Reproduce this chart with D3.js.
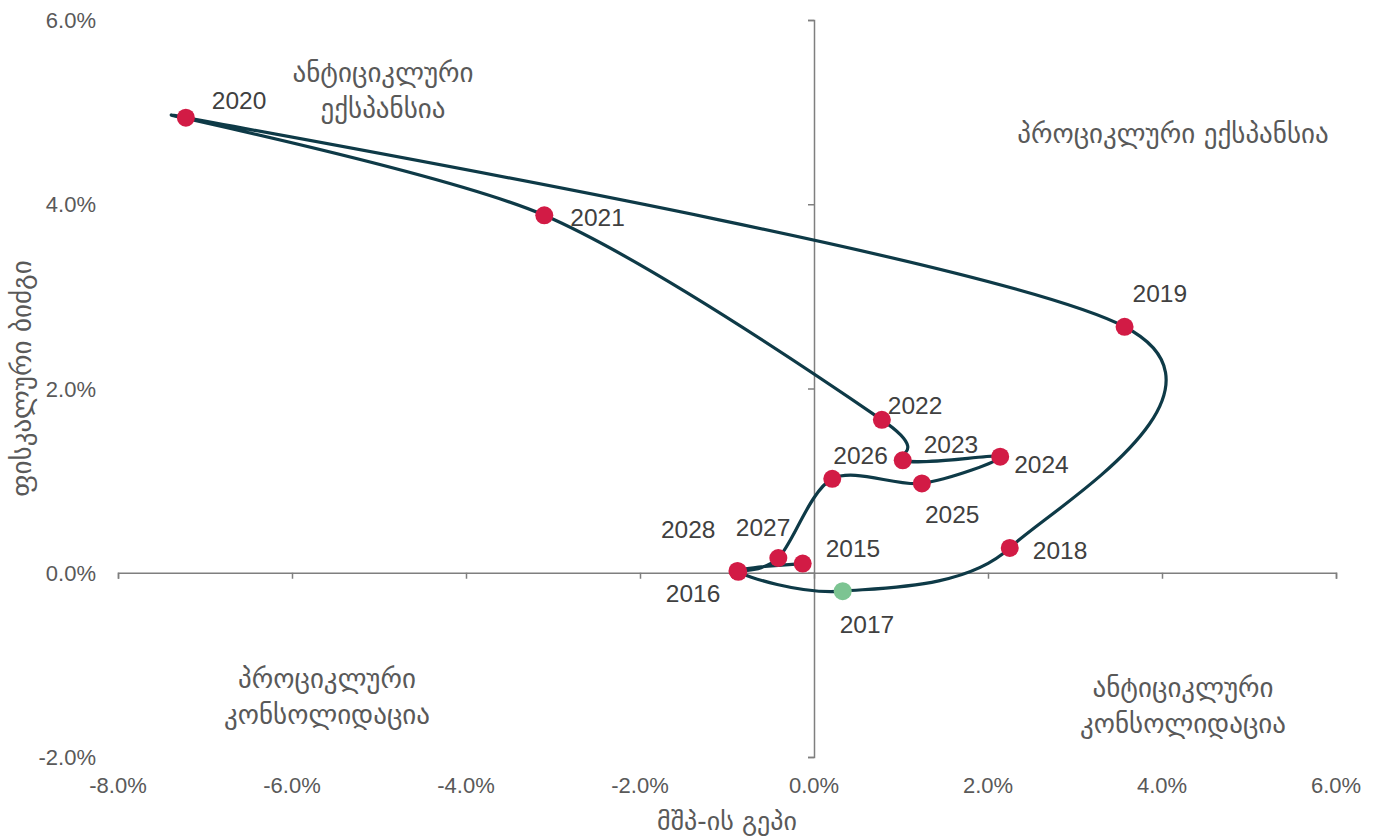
<!DOCTYPE html>
<html>
<head>
<meta charset="utf-8">
<script src="https://cdn.jsdelivr.net/npm/d3@7"></script>
<style>
  html, body { margin: 0; padding: 0; background: #fff; }
  svg { display: block; }
  text { font-family: "Liberation Sans", Arial, "DejaVu Sans", sans-serif; }
  .geo { font-family: "DejaVu Sans", sans-serif; }
</style>
</head>
<body>
<svg id="chart" width="1377" height="838"></svg>
<script>
// ---- Data ----
const years = ["2015","2016","2017","2018","2019","2020","2021","2022","2023","2024","2025","2026","2027","2028"];
const gdpGap = [-0.13, -0.87, 0.33, 2.25, 3.57, -7.22, -3.10, 0.78, 1.02, 2.14, 1.24, 0.21, -0.41, -0.88];
const fiscalImpulse = [0.10, 0.01, -0.20, 0.27, 2.67, 4.94, 3.88, 1.66, 1.22, 1.26, 0.97, 1.02, 0.16, 0.02];
const highlightYears = ["2017"];
const xTicks = [-8, -6, -4, -2, 0, 2, 4, 6];
const yTicks = [-2, 0, 2, 4, 6];
const xTitle = "მშპ-ის გეპი";
const yTitle = "ფისკალური ბიძგი";
const quadrantTexts = [
  ["ანტიციკლური", "ექსპანსია"],
  ["პროციკლური ექსპანსია"],
  ["პროციკლური", "კონსოლიდაცია"],
  ["ანტიციკლური", "კონსოლიდაცია"]
];

// ---- Layout (pixels) ----
const quadrantAnchors = [[383, 82], [1173, 143], [327, 688], [1183, 697]];
const labelDx = [23, -18, -3, 23, 8, 26, 26, 6, 21, 14, 3, 1, 12, -22];
const labelDy = [-7, 30, 42, 11, -25, -9, 11, -6, -7, 16, 40, -15, -22, -33];
const labelAnchor = ["start","end","start","start","start","start","start","start","start","start","start","start","end","end"];

// ---- Chart ----
const svg = d3.select("#chart");
const x = d3.scaleLinear().domain([-8, 6]).range([118, 1336]);
const y = d3.scaleLinear().domain([-2, 6]).range([757, 20]);
const axisColor = "#7f7f7f";
const textColor = "#595959";
const fmt = d => d.toFixed(1) + "%";

const gx = svg.append("g").attr("transform", `translate(0,${y(0)})`)
  .call(d3.axisBottom(x).tickValues(xTicks).tickSize(6).tickFormat(""));
gx.select(".domain").attr("stroke", axisColor).attr("stroke-width", 1.5);
gx.selectAll(".tick line").attr("stroke", axisColor).attr("stroke-width", 1.5);

const gy = svg.append("g").attr("transform", `translate(${x(0)},0)`)
  .call(d3.axisLeft(y).tickValues(yTicks).tickSize(6).tickFormat(""));
gy.select(".domain").attr("stroke", axisColor).attr("stroke-width", 1.5);
gy.selectAll(".tick line").attr("stroke", axisColor).attr("stroke-width", 1.5);

svg.append("g").selectAll("text").data(xTicks).join("text")
  .attr("x", d => x(d)).attr("y", 793)
  .attr("text-anchor", "middle").attr("fill", textColor).attr("font-size", 22)
  .text(fmt);
svg.append("g").selectAll("text").data(yTicks).join("text")
  .attr("x", 96).attr("y", d => y(d) + 8)
  .attr("text-anchor", "end").attr("fill", textColor).attr("font-size", 22)
  .text(fmt);

svg.append("text").attr("class", "geo")
  .attr("x", (x(-8) + x(6)) / 2).attr("y", 830)
  .attr("text-anchor", "middle").attr("fill", textColor).attr("font-size", 26)
  .text(xTitle);
svg.append("text").attr("class", "geo")
  .attr("transform", `translate(31,${(y(-2) + y(6)) / 2 - 10}) rotate(-90)`)
  .attr("text-anchor", "middle").attr("fill", textColor).attr("font-size", 27)
  .text(yTitle);

quadrantTexts.forEach((lines, qi) => {
  const t = svg.append("text").attr("class", "geo")
    .attr("text-anchor", "middle").attr("fill", textColor).attr("font-size", 27);
  lines.forEach((ln, i) => {
    t.append("tspan").attr("x", quadrantAnchors[qi][0]).attr("y", quadrantAnchors[qi][1] + i * 36).text(ln);
  });
});

const pts = years.map((yr, i) => ({ i, year: yr, gx: gdpGap[i], fi: fiscalImpulse[i] }));

const line = d3.line()
  .x(d => x(d.gx)).y(d => y(d.fi))
  .curve(d3.curveCardinal.tension(0.08));
svg.append("path").datum(pts)
  .attr("d", line)
  .attr("fill", "none")
  .attr("stroke", "#0e3a47")
  .attr("stroke-width", 3.2);

svg.append("g").selectAll("circle").data(pts).join("circle")
  .attr("cx", d => x(d.gx)).attr("cy", d => y(d.fi)).attr("r", 9)
  .attr("fill", d => highlightYears.includes(d.year) ? "#7cc492" : "#d21b45");

svg.append("g").selectAll("text").data(pts).join("text")
  .attr("x", d => x(d.gx) + labelDx[d.i])
  .attr("y", d => y(d.fi) + labelDy[d.i])
  .attr("text-anchor", d => labelAnchor[d.i])
  .attr("fill", "#404040").attr("font-size", 24.5)
  .text(d => d.year);
</script>
</body>
</html>
